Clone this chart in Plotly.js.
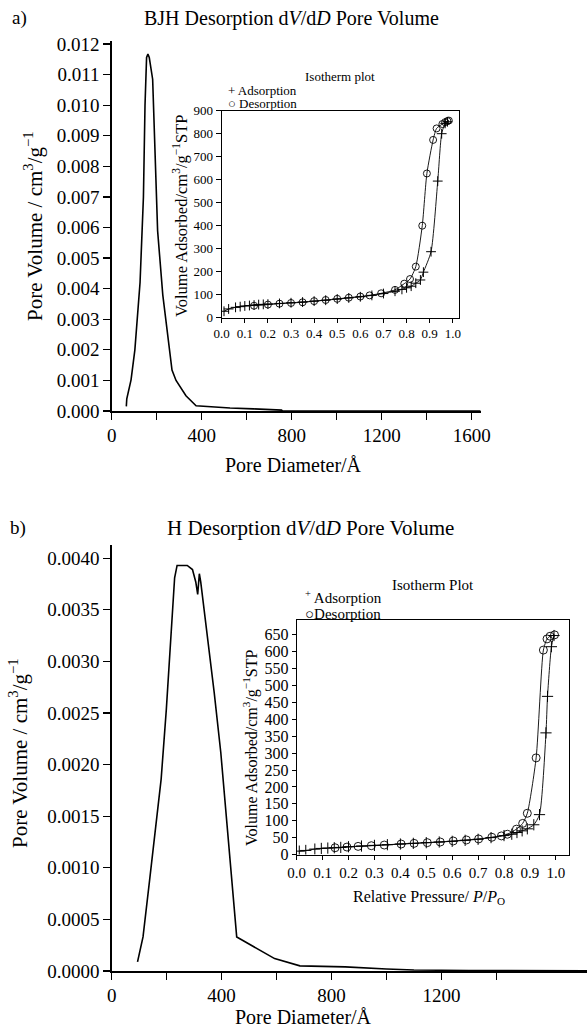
<!DOCTYPE html>
<html><head><meta charset="utf-8">
<script src="https://cdn.plot.ly/plotly-3.0.1.min.js"></script>
<style>html,body{margin:0;padding:0;background:#fff}</style>
</head><body><div id="chart" style="width:587px;height:1028px"></div>
<script>
// ---- Panel a: BJH desorption dV/dD ----
const poreDiamA = [65,67,86,103,126,141,148,155,161,167,182,189,204,227,250,268,286,330,375,450,526,630,755,760,1640];
const poreVolA  = [0.00015,0.0004,0.00102,0.002,0.0042,0.007,0.00998,0.01156,0.01167,0.01156,0.01085,0.0092,0.0059,0.0038,0.0023,0.00134,0.001,0.0005,0.00017,0.00013,0.0001,0.00007,0.00003,0,0];

// Inset a: isotherm
const adsPA = [0.01,0.03,0.06,0.08,0.10,0.12,0.14,0.16,0.18,0.20,0.25,0.30,0.35,0.40,0.45,0.50,0.55,0.60,0.65,0.70,0.75,0.78,0.80,0.82,0.84,0.86,0.873,0.906,0.935,0.952,0.967,0.977];
const adsVA = [28,38,45,48,51,53,55,57,58,59,62,65,68,72,76,81,86,91,97,105,115,123,130,137,150,164,198,287,594,800,845,852];
const desPA = [0.14,0.20,0.25,0.30,0.35,0.40,0.45,0.50,0.55,0.60,0.64,0.69,0.75,0.79,0.815,0.84,0.868,0.888,0.915,0.93,0.955,0.967,0.977,0.983];
const desVA = [52,57,61,64,67,72,77,82,87,92,97,106,121,148,168,222,400,627,773,823,842,850,855,857];

// ---- Panel b: H desorption dV/dD ----
const poreDiamB = [94,114,138,159,180,199,216,229,238,275,294,306,313,319,324,342,373,397,411,428,455,468,520,593,685,752,850,1000,1100,1300,1730];
const poreVolB  = [0.000088,0.00033,0.00088,0.00134,0.00186,0.00254,0.00329,0.00381,0.00393,0.00393,0.00389,0.00377,0.00365,0.00385,0.00377,0.00338,0.0027,0.00212,0.0017,0.00114,0.00033,0.00031,0.00023,0.00012,0.00005,0.000045,0.00004,0.00002,0.00001,0.000005,0.000003];

// Inset b: isotherm
const adsPB = [0.01,0.035,0.07,0.095,0.12,0.145,0.17,0.20,0.25,0.30,0.35,0.40,0.45,0.50,0.55,0.60,0.65,0.70,0.75,0.80,0.83,0.85,0.87,0.89,0.915,0.937,0.962,0.968,0.983,0.993];
const adsVB = [10,12,16,18,19,20,21,23,25,27,29,31,33,35,37,39,42,45,50,56,60,65,70,76,88,118,360,468,615,648];
const desPB = [0.148,0.194,0.237,0.288,0.338,0.403,0.453,0.504,0.554,0.604,0.655,0.702,0.753,0.79,0.813,0.848,0.872,0.89,0.924,0.952,0.966,0.978,0.995];
const desVB = [20,22,24,26,28,31,33,35,37,40,43,46,51,55,60,75,92,122,286,605,638,646,650];

const xTicksA = [0,200,400,600,800,1000,1200,1400,1600];
const xTicksB = [0,200,400,600,800,1000,1200,1400];

const W = 587, H = 1028;
const px = x => x / W;
const py = y => 1 - y / H;
const FONT = '"Liberation Serif", "Times New Roman", serif';
const F = s => ({family: FONT, size: s, color: '#000'});
const lab = v => (v % 400 === 0 ? String(v) : '');

const mainLine = {color:'#000', width:1.6};
const thin = {color:'#000', width:0.9, shape:'spline', smoothing:0.6};

const traces = [
  {x: poreDiamA, y: poreVolA, xaxis:'x', yaxis:'y', mode:'lines', line: mainLine},
  {x: adsPA, y: adsVA, xaxis:'x2', yaxis:'y2', mode:'lines+markers', line: thin,
   marker:{symbol:'cross-thin-open', size:7, line:{color:'#000', width:1}}},
  {x: desPA, y: desVA, xaxis:'x2', yaxis:'y2', mode:'lines+markers', line: thin,
   marker:{symbol:'circle-open', size:7, color:'#000', line:{color:'#000', width:0.9}}},
  {x: poreDiamB, y: poreVolB, xaxis:'x3', yaxis:'y3', mode:'lines', line: mainLine},
  {x: adsPB, y: adsVB, xaxis:'x4', yaxis:'y4', mode:'lines+markers', line: thin,
   marker:{symbol:'cross-thin-open', size:8, line:{color:'#000', width:1}}},
  {x: desPB, y: desVB, xaxis:'x4', yaxis:'y4', mode:'lines+markers', line: thin,
   marker:{symbol:'circle-open', size:8, color:'#000', line:{color:'#000', width:0.9}}}
];

const baseAx = {showline:true, linecolor:'#000', showgrid:false, zeroline:false,
  ticks:'outside', tickcolor:'#000'};

const layout = {
  width: W, height: H, margin:{l:0,r:0,t:0,b:0}, showlegend:false,
  paper_bgcolor:'#fff', plot_bgcolor:'rgba(0,0,0,0)',
  font: F(14),
  xaxis: Object.assign({}, baseAx, {domain:[px(111.7), px(480.7)], range:[0,1640], anchor:'y',
    tickmode:'array', tickvals:xTicksA, ticktext:xTicksA.map(lab), ticklen:7, tickwidth:1.3, linewidth:1.6,
    tickfont:F(19)}),
  yaxis: Object.assign({}, baseAx, {domain:[py(411), py(41)], range:[0,0.0121], anchor:'x',
    dtick:0.001, tick0:0, tickformat:'.3f', ticklen:7, tickwidth:1.3, linewidth:1.3, tickfont:F(19)}),
  xaxis2: Object.assign({}, baseAx, {domain:[px(221.7), px(459)], range:[0,1.027], anchor:'y2',
    dtick:0.1, tick0:0, tickformat:'.1f', ticklen:4, linewidth:1, mirror:true, tickfont:F(13)}),
  yaxis2: Object.assign({}, baseAx, {domain:[py(317.7), py(110.7)], range:[0,900], anchor:'x2',
    dtick:100, tick0:0, ticklen:5, linewidth:1, mirror:true, tickfont:F(13)}),
  xaxis3: Object.assign({}, baseAx, {domain:[px(111.7), 1], range:[0,1730], anchor:'y3',
    tickmode:'array', tickvals:xTicksB, ticktext:xTicksB.map(lab), ticklen:7, tickwidth:1.3, linewidth:1.6,
    tickfont:F(19)}),
  yaxis3: Object.assign({}, baseAx, {domain:[py(971), py(545)], range:[0,0.004128], anchor:'x3',
    dtick:0.0005, tick0:0, tickformat:'.4f', ticklen:7, tickwidth:1.3, linewidth:1.3, tickfont:F(19)}),
  xaxis4: Object.assign({}, baseAx, {domain:[px(296.7), px(569.3)], range:[0,1.052], anchor:'y4',
    dtick:0.1, tick0:0, tickformat:'.1f', ticklen:4, linewidth:1, mirror:true, tickfont:F(15)}),
  yaxis4: Object.assign({}, baseAx, {domain:[py(854.5), py(620)], range:[0,694], anchor:'x4',
    dtick:50, tick0:0, ticklen:4, linewidth:1, mirror:true, tickfont:F(16)}),
  annotations: []
};

function note(text, x, y, size, opts) {
  layout.annotations.push(Object.assign({text:text, x:px(x), y:py(y), xref:'paper', yref:'paper',
    showarrow:false, font:F(size), xanchor:'center', yanchor:'middle'}, opts||{}));
}
note('a)', 19, 18, 19);
note('BJH Desorption d<i>V</i>/d<i>D</i> Pore Volume', 291, 18, 20);
note('Pore Volume / cm<sup>3</sup>/g<sup>−1</sup>', 33, 226, 21, {textangle:-90});
note('Pore Diameter/Å', 293, 465, 20);
note('Isotherm plot', 340, 77, 13);
note('+ Adsorption', 226, 90.5, 13, {xanchor:'left'});
note('○ Desorption', 226, 104, 13, {xanchor:'left'});
note('Volume Adsorbed/cm<sup>3</sup>/g<sup>−1</sup>STP', 180, 216, 16.5, {textangle:-90});

note('b)', 18, 528, 19);
note('H Desorption d<i>V</i>/d<i>D</i> Pore Volume', 310, 528, 21);
note('Pore Volume / cm<sup>3</sup>/g<sup>−1</sup>', 18, 753, 21, {textangle:-90});
note('Pore Diameter/Å', 303, 1017, 20);
note('Isotherm Plot', 433, 585, 15);
note('<sup>+</sup> Adsorption', 303, 597, 15, {xanchor:'left'});
note('○Desorption', 303, 614, 15, {xanchor:'left'});
note('Volume Adsorbed/cm<sup>3</sup>/g<sup>−1</sup>STP', 250, 748, 16, {textangle:-90});
note('Relative Pressure/ <i>P</i>/<i>P</i><sub>O</sub>', 429, 897, 16);

Plotly.newPlot('chart', traces, layout, {displayModeBar:false, staticPlot:true});
</script></body></html>
